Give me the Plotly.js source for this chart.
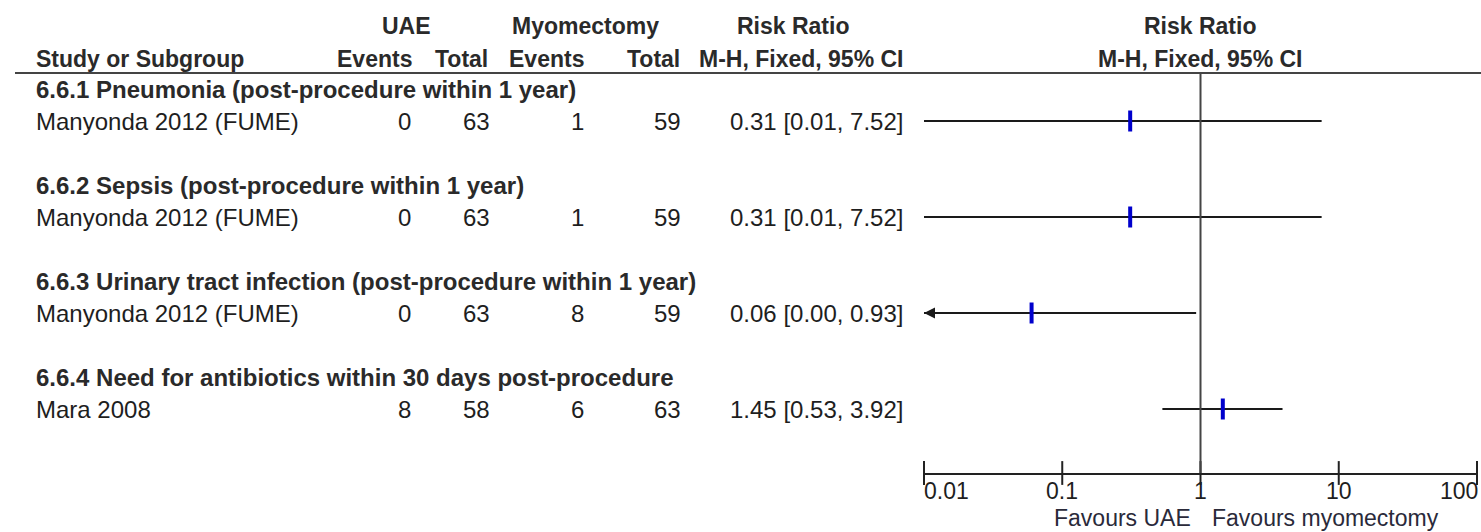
<!DOCTYPE html>
<html>
<head>
<meta charset="utf-8">
<script src="https://cdn.plot.ly/plotly-3.0.1.min.js"></script>
<style>html,body{margin:0;padding:0;background:#fff}</style>
</head>
<body>
<div id="chart" style="width:1481px;height:532px"></div>
<script>
// ---- data ----
const subgroups = [
  "6.6.1 Pneumonia (post-procedure within 1 year)",
  "6.6.2 Sepsis (post-procedure within 1 year)",
  "6.6.3 Urinary tract infection (post-procedure within 1 year)",
  "6.6.4 Need for antibiotics within 30 days post-procedure"
];
const studies = ["Manyonda 2012 (FUME)", "Manyonda 2012 (FUME)", "Manyonda 2012 (FUME)", "Mara 2008"];
const uaeEvents = [0, 0, 0, 8];
const uaeTotal = [63, 63, 63, 58];
const myoEvents = [1, 1, 8, 6];
const myoTotal = [59, 59, 59, 63];
const rr = [0.31, 0.31, 0.06, 1.45];
const ciLower = [0.01, 0.01, 0.00, 0.53];
const ciUpper = [7.52, 7.52, 0.93, 3.92];
const tickVals = [0.01, 0.1, 1, 10, 100];
const tickText = ["0.01", "0.1", "1", "10", "100"];
const favourLeft = "Favours UAE";
const favourRight = "Favours myomectomy";

// ---- layout helpers ----
const W = 1481, H = 532;
const px = v => v / W;
const py = v => 1 - v / H;
const axisMin = tickVals[0], axisMax = tickVals[tickVals.length - 1];
const FONT = "Liberation Sans, Arial, sans-serif";
const TXT = "#1e1e1e";
const HDR = "#2a2a2a";
const FS = 24;
const FH = 23;
const FA = 23;
const AXIS_ROW = 12;

const traces = [];
const annotations = [];

function ann(text, x, y, xanchor, opts) {
  annotations.push(Object.assign({
    text: text, x: x, y: y, xref: 'paper', yref: 'y', xanchor: xanchor, yanchor: 'middle',
    showarrow: false, font: {family: FONT, size: FS, color: TXT}
  }, opts || {}));
}

const fmt = v => v.toFixed(2);

subgroups.forEach((sg, i) => {
  const hdrRow = 3 * i, row = 3 * i + 1;
  ann('<b>' + sg + '</b>', px(34), hdrRow, 'left', {font: {family: FONT, size: FS, color: HDR}});
  ann(studies[i], px(34), row, 'left');
  ann(String(uaeEvents[i]), px(413), row, 'right');
  ann(String(uaeTotal[i]), px(492), row, 'right');
  ann(String(myoEvents[i]), px(586), row, 'right');
  ann(String(myoTotal[i]), px(683), row, 'right');
  ann(fmt(rr[i]) + ' [' + fmt(ciLower[i]) + ', ' + fmt(ciUpper[i]) + ']', px(905), row, 'right');

  const lo = Math.max(ciLower[i], axisMin), hi = Math.min(ciUpper[i], axisMax);
  traces.push({
    x: [lo, hi], y: [row, row], mode: 'lines', type: 'scatter',
    line: {color: '#1a1a1a', width: 2}, hoverinfo: 'skip', showlegend: false
  });
  if (ciLower[i] < axisMin) {
    traces.push({
      x: [axisMin], y: [row], mode: 'markers', type: 'scatter', cliponaxis: false,
      marker: {symbol: 'arrow-left', size: 11, color: '#1a1a1a'}, hoverinfo: 'skip', showlegend: false
    });
  }
});

// point estimates
traces.push({
  x: rr, y: rr.map((_, i) => 3 * i + 1), mode: 'markers', type: 'scatter',
  marker: {symbol: 'line-ns-open', size: 15, color: '#0000cc', line: {color: '#0000cc', width: 4}},
  hoverinfo: 'skip', showlegend: false
});

// axis ticks crossing the axis line
traces.push({
  x: tickVals, y: tickVals.map(() => AXIS_ROW), mode: 'markers', type: 'scatter', cliponaxis: false,
  marker: {symbol: 'line-ns-open', size: 17, color: '#222', line: {color: '#222', width: 2}},
  hoverinfo: 'skip', showlegend: false
});

// tick labels (log axis: annotation x is log10 of value)
tickVals.forEach((v, i) => {
  annotations.push({
    text: tickText[i], x: Math.log10(v), y: py(491), xref: 'x', yref: 'paper',
    xanchor: i === 0 ? 'left' : (i === tickVals.length - 1 ? 'right' : 'center'), yanchor: 'middle',
    xshift: i === 0 ? -2 : (i === tickVals.length - 1 ? 3 : 0),
    showarrow: false, font: {family: FONT, size: FA, color: TXT}
  });
});
annotations.push({text: favourLeft, x: 0, y: py(518), xref: 'x', yref: 'paper', xanchor: 'right', yanchor: 'middle',
  xshift: -8, showarrow: false, font: {family: FONT, size: FA, color: '#2a2a3a'}});
annotations.push({text: favourRight, x: 0, y: py(518), xref: 'x', yref: 'paper', xanchor: 'left', yanchor: 'middle',
  xshift: 9, showarrow: false, font: {family: FONT, size: FA, color: '#2a2a3a'}});

// column headers
function hdr(text, x, y, xanchor) {
  annotations.push({text: '<b>' + text + '</b>', x: x, y: py(y), xref: 'paper', yref: 'paper',
    xanchor: xanchor, yanchor: 'middle', showarrow: false, font: {family: FONT, size: FH, color: HDR}});
}
hdr('UAE', px(406), 26, 'center');
hdr('Myomectomy', px(585), 26, 'center');
hdr('Risk Ratio', px(793), 26, 'center');
hdr('Risk Ratio', px(1200), 26, 'center');
hdr('Study or Subgroup', px(34), 59, 'left');
hdr('Events', px(414), 59, 'right');
hdr('Total', px(490), 59, 'right');
hdr('Events', px(507), 59, 'left');
hdr('Total', px(682), 59, 'right');
hdr('M-H, Fixed, 95% CI', px(905), 59, 'right');
hdr('M-H, Fixed, 95% CI', px(1200), 59, 'center');

const layout = {
  width: W, height: H, autosize: false,
  margin: {l: 0, r: 0, t: 0, b: 0, pad: 0},
  paper_bgcolor: '#fff', plot_bgcolor: 'rgba(0,0,0,0)',
  showlegend: false,
  xaxis: {
    type: 'log', range: [Math.log10(axisMin), Math.log10(axisMax)],
    domain: [px(924), px(1477)],
    showgrid: false, zeroline: false, showticklabels: false, ticks: '',
    showline: true, linecolor: '#222', linewidth: 2, anchor: 'y', fixedrange: true
  },
  yaxis: {
    range: [AXIS_ROW, -0.5], domain: [py(473), py(73)],
    showgrid: false, zeroline: false, showticklabels: false, ticks: '', showline: false, fixedrange: true
  },
  shapes: [
    {type: 'line', xref: 'paper', yref: 'paper', x0: px(15), x1: 1, y0: py(73), y1: py(73),
     line: {color: '#444', width: 2}},
    {type: 'line', xref: 'x', yref: 'y', x0: 1, x1: 1, y0: -0.5, y1: AXIS_ROW,
     line: {color: '#444', width: 2}}
  ],
  annotations: annotations
};

Plotly.newPlot('chart', traces, layout, {staticPlot: true, displayModeBar: false});
</script>
</body>
</html>
